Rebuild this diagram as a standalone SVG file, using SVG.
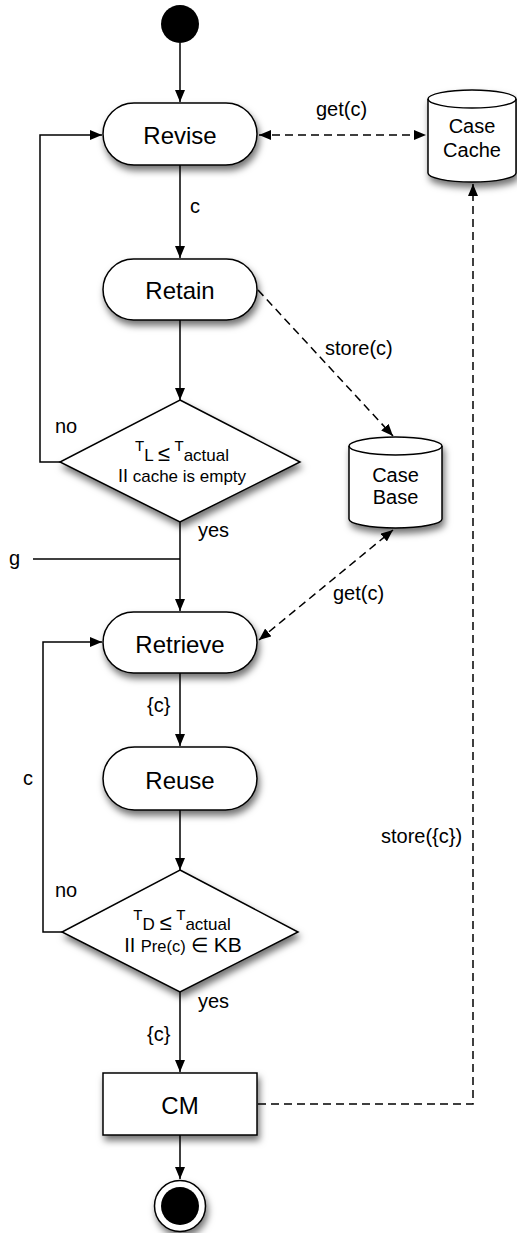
<svg xmlns="http://www.w3.org/2000/svg" width="517" height="1233" viewBox="0 0 517 1233">
<defs>
<style>
.node{fill:#fff;stroke:#000;stroke-width:1.5;filter:url(#sh)}
.t{font-family:"Liberation Sans",Arial,sans-serif;font-size:24px;text-anchor:middle;fill:#000}
.ct{font-family:"Liberation Sans",Arial,sans-serif;font-size:20px;text-anchor:middle;fill:#000}
.lb{font-family:"Liberation Sans",Arial,sans-serif;font-size:20px;fill:#000}
.dt{font-family:"Liberation Sans",Arial,sans-serif;font-size:17px;text-anchor:middle;fill:#000}
.ln{fill:none;stroke:#000;stroke-width:1.5}
.ds{fill:none;stroke:#000;stroke-width:1.5;stroke-dasharray:8 5}
</style>
<filter id="sh" x="-20%" y="-20%" width="150%" height="160%">
<feDropShadow dx="2" dy="5" stdDeviation="3.5" flood-color="#000" flood-opacity="0.55"/>
</filter>
<marker id="ah" viewBox="0 0 12 10" refX="12" refY="5" markerWidth="12" markerHeight="10" markerUnits="userSpaceOnUse" orient="auto-start-reverse">
<path d="M0,0 L12,5 L0,10 z" fill="#000"/>
</marker>
</defs>

<g id="connectors">
<path class="ln" d="M180,43 V102" marker-end="url(#ah)"/>
<path class="ln" d="M180,165 V258" marker-end="url(#ah)"/>
<path class="ln" d="M180,320 V400" marker-end="url(#ah)"/>
<path class="ln" d="M180,522 V611" marker-end="url(#ah)"/>
<path class="ln" d="M33,559 H180"/>
<path class="ln" d="M180,673 V746" marker-end="url(#ah)"/>
<path class="ln" d="M180,810 V870" marker-end="url(#ah)"/>
<path class="ln" d="M180,992 V1072" marker-end="url(#ah)"/>
<path class="ln" d="M180,1135 V1179" marker-end="url(#ah)"/>
<path class="ln" d="M60,462 H40 V135 H102" marker-end="url(#ah)"/>
<path class="ln" d="M63,932 H43 V642 H102" marker-end="url(#ah)"/>
<path class="ds" d="M259,135 H426" marker-start="url(#ah)" marker-end="url(#ah)"/>
<path class="ds" d="M258,290 L393,436" marker-end="url(#ah)"/>
<path class="ds" d="M259,640 L393,530" marker-start="url(#ah)" marker-end="url(#ah)"/>
<path class="ds" d="M258,1104 H473 V184" marker-end="url(#ah)"/>
<text class="lb" x="316" y="116">get(c)</text>
<text class="lb" x="190" y="213">c</text>
<text class="lb" x="325" y="355">store(c)</text>
<text class="lb" x="55" y="433">no</text>
<text class="lb" x="198" y="537">yes</text>
<text class="lb" x="9" y="565">g</text>
<text class="lb" x="333" y="600">get(c)</text>
<text class="lb" x="147" y="712">{c}</text>
<text class="lb" x="23" y="785">c</text>
<text class="lb" x="381" y="843">store({c})</text>
<text class="lb" x="55" y="897">no</text>
<text class="lb" x="198" y="1008">yes</text>
<text class="lb" x="147" y="1041">{c}</text>
</g>

<g id="start"><circle cx="180" cy="24" r="19" fill="#000"/></g>

<g id="revise">
<rect class="node" x="103" y="103" width="154" height="62" rx="31"/>
<text class="t" x="180" y="144">Revise</text>
</g>

<g id="case-cache">
<path class="node" d="M428,99 A44,9 0 0 1 516,99 V173 A44,9 0 0 1 428,173 Z"/>
<path class="ln" d="M428,99 A44,9 0 0 0 516,99"/>
<text class="ct" x="472" y="133">Case</text>
<text class="ct" x="472" y="157">Cache</text>
</g>

<g id="retain">
<rect class="node" x="103" y="259" width="154" height="61" rx="30.5"/>
<text class="t" x="180" y="299">Retain</text>
</g>

<g id="decision1">
<polygon class="node" points="180,400 300,462 180,522 60,462"/>
<text class="dt" x="182" y="461"><tspan font-size="15" dy="-10">T</tspan><tspan dy="10">L </tspan><tspan font-size="22">≤</tspan><tspan> </tspan><tspan font-size="15" dy="-10">T</tspan><tspan dy="10">actual</tspan></text>
<text class="dt" x="182" y="482"><tspan font-size="18">II</tspan> cache is empty</text>
</g>

<g id="case-base">
<path class="node" d="M349,446 A46.5,9 0 0 1 442,446 V519 A46.5,9 0 0 1 349,519 Z"/>
<path class="ln" d="M349,446 A46.5,9 0 0 0 442,446"/>
<text class="ct" x="395.5" y="482">Case</text>
<text class="ct" x="395.5" y="504">Base</text>
</g>

<g id="retrieve">
<rect class="node" x="103" y="612" width="154" height="61" rx="30.5"/>
<text class="t" x="180" y="653">Retrieve</text>
</g>

<g id="reuse">
<rect class="node" x="103" y="747" width="154" height="63" rx="31.5"/>
<text class="t" x="180" y="789">Reuse</text>
</g>

<g id="decision2">
<polygon class="node" points="180,870 298,932 180,992 62,932"/>
<text class="dt" x="182" y="930"><tspan font-size="15" dy="-10">T</tspan><tspan dy="10">D </tspan><tspan font-size="22">≤</tspan><tspan> </tspan><tspan font-size="15" dy="-10">T</tspan><tspan dy="10">actual</tspan></text>
<text class="dt" x="183" y="952"><tspan font-size="20">II </tspan><tspan font-size="16.5">Pre(c)</tspan><tspan font-size="20"> ∈ </tspan><tspan font-size="21">KB</tspan></text>
</g>

<g id="cm">
<rect class="node" x="103" y="1073" width="154" height="62"/>
<text class="t" x="180" y="1114">CM</text>
</g>

<g id="end">
<circle cx="180" cy="1206" r="25.5" fill="#fff" stroke="#000" stroke-width="1.5" filter="url(#sh)"/>
<circle cx="180" cy="1206" r="19" fill="#000"/>
</g>
</svg>
